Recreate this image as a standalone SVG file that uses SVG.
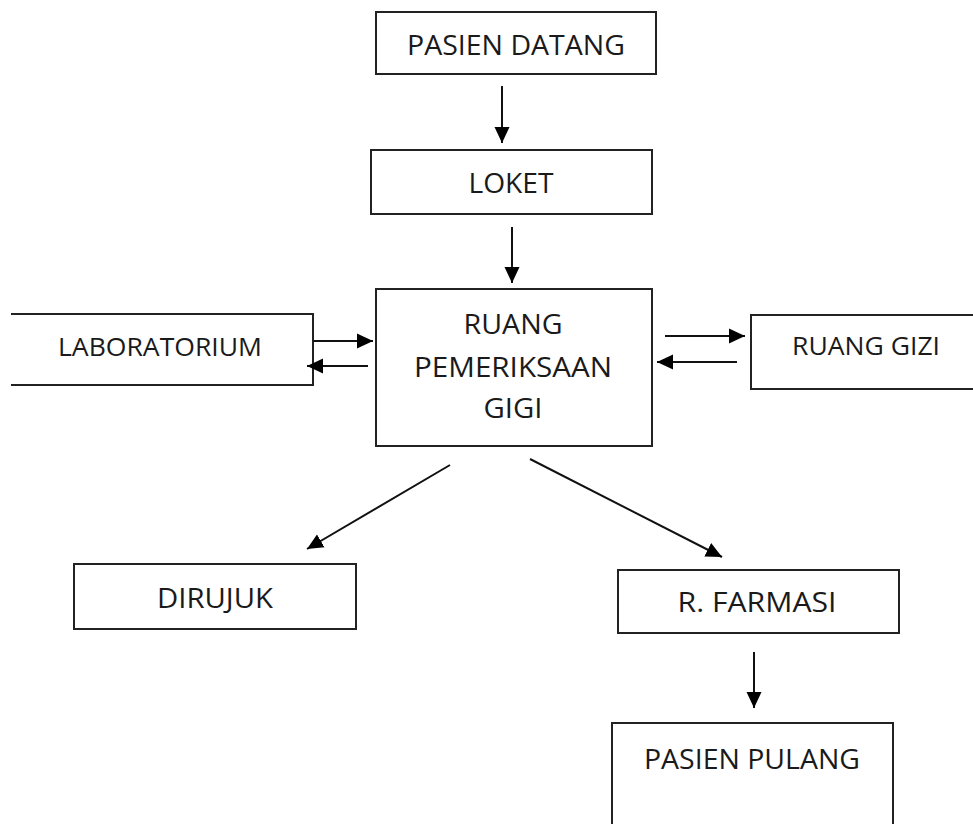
<svg xmlns="http://www.w3.org/2000/svg" width="973" height="824" viewBox="0 0 973 824">
<defs>
<style>
.box{fill:#fff;stroke:#222;stroke-width:2}
.t{font-family:"Open Sans","Noto Sans",sans-serif;font-size:28px;fill:#1a1a1a;text-anchor:middle}
.ts{font-family:"Open Sans","Noto Sans",sans-serif;font-size:25px;fill:#1a1a1a;text-anchor:middle}
.c{stroke:#111;stroke-width:2;fill:none;marker-end:url(#ah)}
</style>
<marker id="ah" markerUnits="userSpaceOnUse" markerWidth="16" markerHeight="16" refX="16" refY="8" orient="auto" viewBox="0 0 16 16">
<path d="M0,0.5 L16,8 L0,15.5 z" fill="#000"/>
</marker>
</defs>
<rect width="973" height="824" fill="#fff"/>
<g id="pasien-datang">
<rect class="box" x="376" y="12" width="280" height="62"/>
<text class="t" x="516" y="55" textLength="218" lengthAdjust="spacingAndGlyphs">PASIEN DATANG</text>
</g>
<g id="loket">
<rect class="box" x="371" y="150" width="281" height="64"/>
<text class="t" x="511" y="193" textLength="85" lengthAdjust="spacingAndGlyphs">LOKET</text>
</g>
<g id="ruang-pemeriksaan">
<rect class="box" x="376" y="289" width="276" height="157"/>
<text class="t" x="513" y="334" textLength="99" lengthAdjust="spacingAndGlyphs">RUANG</text>
<text class="t" x="513" y="377" textLength="198" lengthAdjust="spacingAndGlyphs">PEMERIKSAAN</text>
<text class="t" x="513" y="418" textLength="59" lengthAdjust="spacingAndGlyphs">GIGI</text>
</g>
<g id="laboratorium">
<path class="box" d="M11,314 H313 V385 H11"/>
<text class="ts" x="160" y="356" textLength="204" lengthAdjust="spacingAndGlyphs">LABORATORIUM</text>
</g>
<g id="ruang-gizi">
<path class="box" d="M975,315 H751 V389 H975"/>
<text class="ts" x="866" y="355" textLength="148" lengthAdjust="spacingAndGlyphs">RUANG GIZI</text>
</g>
<g id="dirujuk">
<rect class="box" x="74" y="564" width="282" height="65"/>
<text class="t" x="215" y="608" textLength="116" lengthAdjust="spacingAndGlyphs">DIRUJUK</text>
</g>
<g id="r-farmasi">
<rect class="box" x="618" y="570" width="281" height="63"/>
<text class="t" x="757" y="612" textLength="159" lengthAdjust="spacingAndGlyphs">R. FARMASI</text>
</g>
<g id="pasien-pulang">
<path class="box" d="M612,830 V723 H893 V830"/>
<text class="t" x="752" y="769" textLength="216" lengthAdjust="spacingAndGlyphs">PASIEN PULANG</text>
</g>
<g id="connectors">
<line class="c" x1="502" y1="86" x2="502" y2="143"/>
<line class="c" x1="512" y1="227" x2="512" y2="283"/>
<line class="c" x1="313" y1="341" x2="373" y2="341"/>
<line class="c" x1="368" y1="366" x2="307" y2="366"/>
<line class="c" x1="665" y1="336" x2="745" y2="336"/>
<line class="c" x1="737" y1="362" x2="657" y2="362"/>
<line class="c" x1="450" y1="465" x2="307" y2="549"/>
<line class="c" x1="530" y1="459" x2="722" y2="557"/>
<line class="c" x1="754" y1="652" x2="754" y2="708"/>
</g>
</svg>
